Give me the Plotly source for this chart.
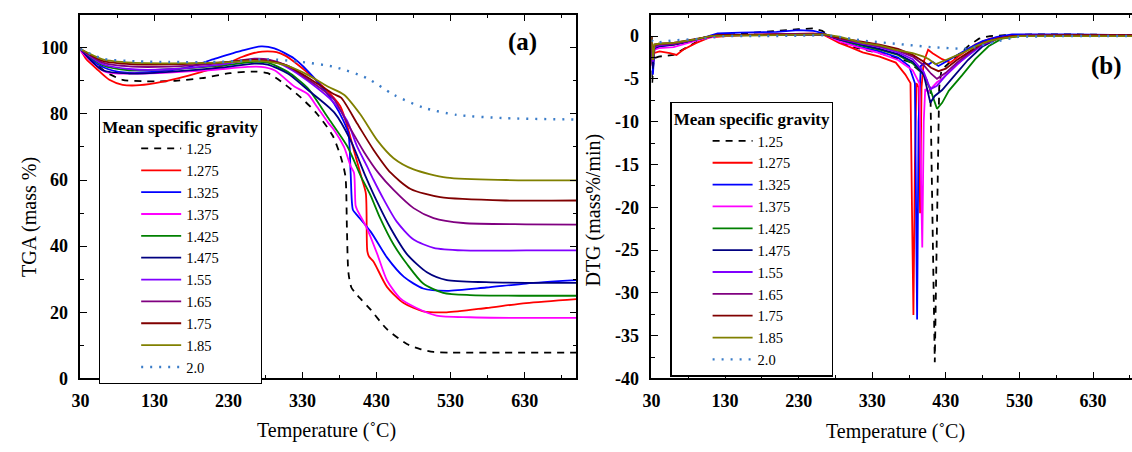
import plotly.graph_objects as go

# ---------------- data ----------------
series_names = ["1.25", "1.275", "1.325", "1.375", "1.425", "1.475", "1.55", "1.65", "1.75", "1.85", "2.0"]
series_colors = ["#000000", "#ff0000", "#0000ff", "#ff00ff", "#008000", "#000080",
                 "#8000ff", "#800080", "#800000", "#808000", "#3a7cc8"]

temp_ticks = [30, 130, 230, 330, 430, 530, 630]
tga_ticks = [0, 20, 40, 60, 80, 100]
dtg_ticks = [-40, -35, -30, -25, -20, -15, -10, -5, 0]

# TGA (mass %)
tga_x_125 = [30, 45, 64, 87, 113, 131, 158, 194, 232, 266, 283, 301, 328, 350, 371, 383, 388, 390, 392, 396, 402, 410, 422, 444, 471, 490, 507, 530, 600, 700]
tga_y_125 = [99.8, 96.5, 92.7, 90.3, 89.9, 89.8, 90.0, 90.8, 92.3, 92.8, 92.3, 89.8, 84.9, 79.9, 73.3, 66.0, 61.0, 45.0, 32.0, 27.5, 25.7, 23.7, 20.8, 14.9, 10.4, 8.8, 8.0, 7.8, 7.8, 7.8]

tga_x_1275 = [30, 38, 51, 69, 87, 105, 131, 163, 194, 221, 248, 270, 283, 295, 306, 319, 355, 381, 400, 410, 415.5, 417.5, 420, 426, 444, 466.6, 493, 524.6, 578, 632, 700]
tga_y_1275 = [99.5, 96.5, 93.8, 90.3, 88.8, 88.6, 89.3, 90.8, 92.7, 94.5, 97.2, 98.7, 98.9, 98.7, 97.7, 95.7, 88.8, 82.3, 68.5, 60.5, 56.0, 38.5, 36.8, 35.3, 27.7, 22.8, 20.3, 20.0, 21.3, 22.8, 24.0]

tga_x_1325 = [30, 55.5, 82, 127, 172, 212, 248, 274, 292, 319, 346, 373, 385, 392, 395, 398, 401.7, 422, 444, 467, 493, 525, 578, 632, 700]
tga_y_1325 = [99.6, 94.7, 92.7, 92.7, 93.9, 96.7, 99.1, 100.4, 99.8, 96.7, 90.8, 83.0, 78.0, 74.0, 62.0, 51.0, 49.9, 44.4, 36.6, 30.7, 27.2, 26.5, 27.5, 28.7, 29.7]

tga_x_1375 = [30, 64, 105, 149, 203, 256, 274, 292, 319, 337, 350, 364, 373, 386, 395, 399.5, 401.7, 404, 417, 431, 444, 462, 484, 511, 556, 632, 700]
tga_y_1375 = [99.0, 92.7, 92.2, 92.5, 93.2, 94.2, 94.2, 93.2, 88.3, 86.0, 82.0, 77.5, 75.0, 70.0, 64.2, 62.2, 52.3, 50.9, 45.4, 37.6, 29.7, 24.2, 21.3, 19.0, 18.5, 18.3, 18.3]

tga_x_1425 = [30, 60, 96, 149, 216, 265, 283, 310, 337, 364, 391, 409, 422, 435, 453, 471, 493, 520, 556, 632, 700]
tga_y_1425 = [99.6, 94.7, 93.2, 93.5, 94.5, 95.7, 95.5, 92.7, 87.8, 79.0, 70.0, 61.0, 55.3, 48.4, 40.5, 34.6, 28.7, 25.9, 25.2, 25.0, 25.0]

tga_x_1475 = [30, 60, 96, 149, 216, 265, 283, 310, 337, 373, 395, 415, 431, 449, 471, 498, 525, 578, 632, 700]
tga_y_1475 = [99.6, 93.2, 92.2, 92.7, 93.9, 95.2, 94.9, 92.2, 87.3, 80.4, 72.0, 61.2, 53.3, 45.4, 37.6, 32.1, 29.7, 29.1, 28.9, 28.9]

tga_x_155 = [30, 60, 100, 150, 216, 265, 283, 310, 337, 372, 390, 404, 417, 426, 440, 457, 480, 507, 547, 632, 700]
tga_y_155 = [99.6, 95.0, 93.5, 93.5, 94.8, 96.5, 96.3, 94.0, 90.0, 83.5, 78.0, 70.0, 64.2, 60.0, 54.0, 47.5, 42.0, 39.5, 38.7, 38.7, 38.7]

tga_x_165 = [30, 60, 100, 150, 216, 265, 283, 310, 337, 372, 391, 413, 433, 453, 480, 507, 547, 632, 700]
tga_y_165 = [99.6, 95.5, 94.3, 94.3, 95.3, 96.7, 96.5, 94.5, 90.5, 84.5, 77.0, 68.5, 62.0, 57.0, 51.5, 48.5, 47.0, 46.6, 46.5]

tga_x_175 = [30, 60, 100, 150, 216, 265, 283, 310, 337, 372, 382, 404, 426, 449, 476, 516, 605, 700]
tga_y_175 = [99.6, 96.0, 95.0, 95.0, 95.5, 96.3, 96.0, 94.5, 91.0, 86.0, 84.9, 77.0, 69.1, 62.2, 57.3, 54.8, 53.8, 53.8]

tga_x_185 = [30, 60, 100, 150, 216, 265, 283, 310, 337, 364, 386, 408, 431, 453, 480, 525, 605, 700]
tga_y_185 = [99.6, 96.5, 95.5, 95.3, 95.5, 96.0, 95.8, 94.5, 91.8, 88.3, 85.8, 79.9, 72.0, 66.6, 63.2, 60.7, 60.0, 59.9]

tga_x_20 = [30, 60, 105, 149, 216, 283, 328, 373, 417, 453, 493, 538, 605, 700]
tga_y_20 = [99.6, 96.7, 95.9, 95.7, 95.7, 96.5, 95.7, 94.2, 90.8, 85.8, 81.9, 79.7, 78.7, 78.3]

# DTG (mass%/min)
dtg_x_125 = [30, 31, 33, 40, 60, 75, 95, 110, 150, 200, 230, 250, 262, 275, 300, 340, 380, 400, 409, 415, 421, 424, 430, 445, 460, 475, 490, 510, 550, 600, 650, 683]
dtg_y_125 = [-2.5, -5.5, -2.6, -2.4, -2.2, -1.5, -0.5, 0.0, 0.3, 0.6, 0.8, 0.9, 0.6, -0.2, -1.2, -2.0, -3.0, -4.5, -6.0, -38.1, -6.0, -4.0, -3.5, -2.3, -1.2, -0.3, 0.0, 0.1, 0.2, 0.2, 0.1, 0.1]

dtg_x_1275 = [30, 31, 33, 41, 55, 64, 73, 91, 109, 150, 200, 250, 265, 285, 300, 317, 340, 362, 375, 382, 384, 386, 388, 390, 393, 395, 397, 400, 406, 412, 425, 436, 450, 470, 490, 510, 550, 600, 683]
dtg_y_1275 = [0.0, -3.5, -2.0, -1.8, -2.0, -2.2, -1.6, -0.8, -0.15, 0.1, 0.2, 0.3, 0.1, -0.8, -1.3, -1.9, -2.4, -3.1, -4.5, -5.5, -20.0, -32.6, -15.0, -5.5, -6.0, -20.7, -6.0, -3.0, -1.6, -2.0, -2.7, -3.1, -2.2, -1.0, -0.3, 0.0, 0.1, 0.1, 0.1]

dtg_x_1325 = [30, 32, 34, 40, 60, 80, 100, 120, 150, 200, 230, 250, 265, 285, 310, 340, 365, 380, 388, 391, 393, 396, 400, 407, 412, 420, 430, 445, 460, 480, 500, 520, 550, 600, 683]
dtg_y_1325 = [0.0, -4.5, -1.5, -1.2, -1.0, -0.7, -0.2, 0.3, 0.4, 0.5, 0.7, 0.6, 0.3, -0.5, -1.2, -1.8, -2.5, -3.5, -5.5, -33.1, -10.0, -3.5, -3.2, -3.3, -3.0, -3.5, -3.0, -2.2, -1.5, -0.6, -0.1, 0.2, 0.2, 0.2, 0.1]

dtg_x_1375 = [30, 32, 34, 40, 60, 80, 100, 120, 200, 265, 285, 310, 340, 365, 385, 394, 398, 400, 402, 406, 412, 418, 425, 440, 460, 480, 500, 520, 600, 683]
dtg_y_1375 = [0.0, -3.5, -1.6, -1.4, -1.3, -0.8, -0.3, 0.0, 0.2, 0.2, -0.6, -1.3, -2.0, -2.8, -4.0, -5.5, -24.7, -10.0, -6.2, -6.5, -6.0, -5.4, -5.0, -3.8, -2.2, -1.0, -0.3, 0.0, 0.1, 0.1]

dtg_x_1425 = [30, 32, 34, 40, 60, 80, 100, 120, 200, 265, 285, 310, 340, 365, 385, 400, 410, 418, 425, 434, 452, 470, 488, 506, 530, 600, 683]
dtg_y_1425 = [0.0, -3.2, -1.3, -1.1, -1.0, -0.6, -0.2, 0.1, 0.2, 0.2, -0.4, -1.0, -1.6, -2.2, -3.2, -4.5, -6.5, -8.5, -7.8, -6.4, -4.6, -2.7, -1.2, -0.3, 0.0, 0.1, 0.1]

dtg_x_1475 = [30, 32, 34, 40, 60, 100, 120, 200, 265, 285, 310, 340, 365, 385, 400, 406, 409, 415, 425, 440, 460, 480, 500, 520, 600, 683]
dtg_y_1475 = [0.0, -3.8, -1.4, -1.2, -1.0, -0.2, 0.1, 0.2, 0.2, -0.4, -0.9, -1.5, -2.1, -3.0, -4.5, -6.5, -7.8, -7.0, -6.3, -4.8, -2.8, -1.2, -0.3, 0.0, 0.1, 0.1]

dtg_x_155 = [30, 32, 34, 40, 60, 100, 120, 200, 265, 285, 310, 340, 365, 385, 400, 409, 418, 430, 445, 460, 480, 500, 520, 600, 683]
dtg_y_155 = [0.0, -3.0, -1.3, -1.1, -0.9, -0.2, 0.1, 0.2, 0.2, -0.3, -0.8, -1.3, -1.9, -2.7, -4.2, -6.2, -5.8, -4.6, -3.3, -2.3, -1.0, -0.3, 0.0, 0.1, 0.1]

dtg_x_165 = [30, 32, 34, 40, 60, 100, 120, 200, 265, 285, 310, 340, 365, 385, 400, 410, 418, 430, 445, 460, 480, 500, 520, 600, 683]
dtg_y_165 = [0.0, -2.8, -1.2, -1.0, -0.9, -0.2, 0.1, 0.2, 0.2, -0.3, -0.7, -1.2, -1.7, -2.4, -3.4, -4.4, -5.0, -4.3, -3.1, -2.1, -0.9, -0.3, 0.0, 0.1, 0.1]

dtg_x_175 = [30, 32, 34, 40, 60, 100, 120, 200, 265, 285, 310, 340, 365, 385, 400, 410, 420, 430, 445, 460, 480, 500, 520, 600, 683]
dtg_y_175 = [0.0, -2.5, -1.0, -0.9, -0.8, -0.2, 0.1, 0.2, 0.2, -0.2, -0.6, -1.0, -1.5, -2.2, -3.0, -3.7, -4.1, -3.8, -2.8, -1.9, -0.8, -0.3, 0.0, 0.1, 0.1]

dtg_x_185 = [30, 32, 34, 40, 60, 90, 110, 200, 265, 285, 317, 340, 362, 385, 400, 407, 416, 430, 452, 470, 488, 506, 530, 600, 683]
dtg_y_185 = [0.0, -2.8, -1.0, -0.9, -0.8, -0.4, 0.0, 0.1, 0.2, -0.07, -0.8, -1.1, -1.6, -2.0, -2.4, -2.7, -3.3, -2.8, -2.0, -1.2, -0.6, -0.26, 0.0, 0.0, 0.0]

dtg_x_20 = [30, 35, 60, 100, 130, 200, 265, 277, 321, 366, 411, 452, 470, 502, 529, 600, 683]
dtg_y_20 = [-0.5, -0.8, -0.5, -0.3, 0.0, 0.0, 0.1, 0.0, -0.57, -0.95, -1.3, -1.5, -1.3, -0.57, -0.07, 0.0, 0.0]

tga_x = [tga_x_125, tga_x_1275, tga_x_1325, tga_x_1375, tga_x_1425, tga_x_1475, tga_x_155, tga_x_165, tga_x_175, tga_x_185, tga_x_20]
tga_y = [tga_y_125, tga_y_1275, tga_y_1325, tga_y_1375, tga_y_1425, tga_y_1475, tga_y_155, tga_y_165, tga_y_175, tga_y_185, tga_y_20]
dtg_x = [dtg_x_125, dtg_x_1275, dtg_x_1325, dtg_x_1375, dtg_x_1425, dtg_x_1475, dtg_x_155, dtg_x_165, dtg_x_175, dtg_x_185, dtg_x_20]
dtg_y = [dtg_y_125, dtg_y_1275, dtg_y_1325, dtg_y_1375, dtg_y_1425, dtg_y_1475, dtg_y_155, dtg_y_165, dtg_y_175, dtg_y_185, dtg_y_20]

# ---------------- figure ----------------
W, H = 1132, 452
SERIF = "Liberation Serif"


def dash_of(i):
    if i == 0:
        return "7px,6px"
    if i == len(series_names) - 1:
        return "2px,7px"
    return "solid"


def width_of(i):
    return 2.4 if i == len(series_names) - 1 else 1.8


fig = go.Figure()
for i, name in enumerate(series_names):
    fig.add_trace(go.Scatter(
        x=tga_x[i], y=tga_y[i], mode="lines", name=name,
        line=dict(color=series_colors[i], width=width_of(i), dash=dash_of(i), shape="spline", smoothing=0.7),
        xaxis="x", yaxis="y", legend="legend"))
for i, name in enumerate(series_names):
    fig.add_trace(go.Scatter(
        x=dtg_x[i], y=dtg_y[i], mode="lines", name=name,
        line=dict(color=series_colors[i], width=width_of(i), dash=dash_of(i)),
        xaxis="x2", yaxis="y2", legend="legend2"))

y_dom = [1 - 387 / H, 1 - 15 / H]
tickfont = dict(family=SERIF, size=18, color="black")


def bold(vals):
    return ["<b>%s</b>" % v for v in vals]


common_axis = dict(showgrid=False, zeroline=False, showline=True, linecolor="black", linewidth=1.5,
                   ticks="inside", ticklen=7, tickwidth=1.3, tickcolor="black", tickfont=tickfont)
minor_common = dict(ticks="inside", ticklen=4, tickwidth=1.2, tickcolor="black", tickmode="array")

fig.update_layout(
    width=W, height=H,
    margin=dict(l=0, r=0, t=0, b=0),
    paper_bgcolor="white", plot_bgcolor="white",
    font=dict(family=SERIF, color="black"),
    xaxis=dict(domain=[72 / W, 572 / W], range=[30, 700], anchor="y", mirror="ticks",
               tickmode="array", tickvals=temp_ticks, ticktext=bold(temp_ticks),
               minor=dict(tickvals=[t + 50 for t in temp_ticks], **minor_common),
               ticklabelstandoff=5,
               **common_axis),
    yaxis=dict(domain=y_dom, range=[0, 110], anchor="x", mirror="ticks",
               tickmode="array", tickvals=tga_ticks, ticktext=bold(tga_ticks),
               minor=dict(tickvals=[t + 10 for t in tga_ticks], **minor_common),
               ticklabelstandoff=7,
               **common_axis),
    xaxis2=dict(domain=[647.6 / W, 1.0], range=[30, 683], anchor="y2", mirror="ticks",
                tickmode="array", tickvals=temp_ticks, ticktext=bold(temp_ticks),
                minor=dict(tickvals=[t + 50 for t in temp_ticks], **minor_common),
                ticklabelstandoff=5,
                **common_axis),
    yaxis2=dict(domain=y_dom, range=[-40, 2.5], anchor="x2", mirror=False,
                tickmode="array", tickvals=dtg_ticks, ticktext=bold(dtg_ticks),
                minor=dict(tickvals=[t - 2.5 for t in dtg_ticks], **minor_common),
                ticklabelstandoff=7,
                **common_axis),
)

legend_common = dict(
    xanchor="left", yanchor="top", bgcolor="white", bordercolor="black", borderwidth=1.2,
    font=dict(family=SERIF, size=14.5, color="black"),
    title=dict(text="<b>Mean specific gravity</b>", side="top center",
               font=dict(family=SERIF, size=17, color="black")),
    tracegroupgap=0, itemwidth=40, indentation=36, traceorder="normal",
)
fig.update_layout(
    legend=dict(x=90.7 / W, y=1 - 111.7 / H, **legend_common),
    legend2=dict(x=666.7 / W, y=1 - 104 / H, **legend_common),
)

ann_font = dict(family=SERIF, size=20, color="black")
fig.add_annotation(text="Temperature (˚C)", x=320 / W, y=1 - 440 / H, xref="paper", yref="paper",
                   showarrow=False, font=ann_font, xanchor="center", yanchor="middle")
fig.add_annotation(text="Temperature (˚C)", x=894 / W, y=1 - 441 / H, xref="paper", yref="paper",
                   showarrow=False, font=ann_font, xanchor="center", yanchor="middle")
fig.add_annotation(text="TGA (mass %)", x=20 / W, y=1 - 222 / H, xref="paper", yref="paper",
                   showarrow=False, font=ann_font, textangle=-90, xanchor="center", yanchor="middle")
fig.add_annotation(text="DTG (mass%/min)", x=589 / W, y=1 - 215 / H, xref="paper", yref="paper",
                   showarrow=False, font=ann_font, textangle=-90, xanchor="center", yanchor="middle")
fig.add_annotation(text="<b>(a)</b>", x=518 / W, y=1 - 43 / H, xref="paper", yref="paper",
                   showarrow=False, font=dict(family=SERIF, size=25, color="black"),
                   xanchor="center", yanchor="middle")
fig.add_annotation(text="<b>(b)</b>", x=1106 / W, y=1 - 68 / H, xref="paper", yref="paper",
                   showarrow=False, font=dict(family=SERIF, size=25, color="black"),
                   xanchor="center", yanchor="middle")

fig.write_html("out.html",
               config={"displayModeBar": False},
               post_script="document.body.style.margin='0';document.body.style.overflow='hidden';")
